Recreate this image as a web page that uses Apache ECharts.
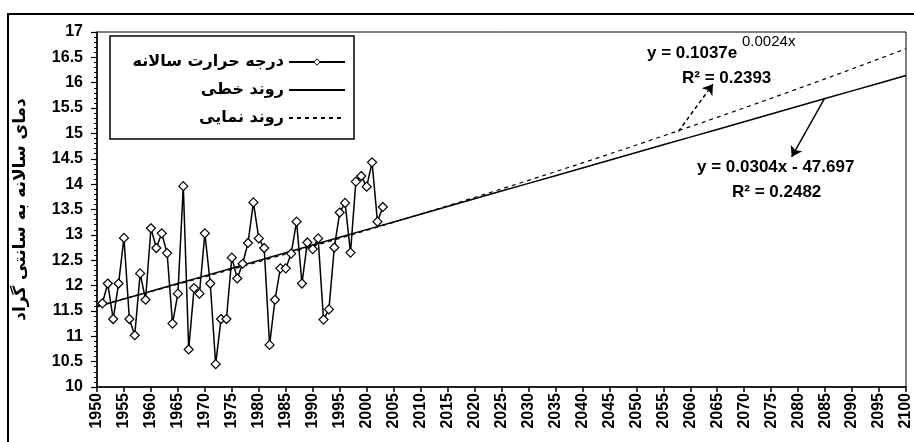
<!DOCTYPE html>
<html>
<head>
<meta charset="utf-8">
<script src="https://cdn.jsdelivr.net/npm/echarts@6/dist/echarts.min.js"></script>
<style>
  html, body { margin: 0; padding: 0; background: #fff; }
  #chart { width: 914px; height: 442px; }
</style>
</head>
<body>
<div id="chart"></div>
<script>
// Annual mean temperature (°C), 1951–2003
const years = [
  1951, 1952, 1953, 1954, 1955, 1956, 1957, 1958, 1959, 1960,
  1961, 1962, 1963, 1964, 1965, 1966, 1967, 1968, 1969, 1970,
  1971, 1972, 1973, 1974, 1975, 1976, 1977, 1978, 1979, 1980,
  1981, 1982, 1983, 1984, 1985, 1986, 1987, 1988, 1989, 1990,
  1991, 1992, 1993, 1994, 1995, 1996, 1997, 1998, 1999, 2000,
  2001, 2002, 2003
];
const temps = [
  11.65, 12.04, 11.34, 12.04, 12.94, 11.34, 11.02, 12.24, 11.72, 13.13,
  12.74, 13.03, 12.64, 11.25, 11.84, 13.96, 10.74, 11.95, 11.84, 13.03,
  12.04, 10.45, 11.34, 11.34, 12.55, 12.14, 12.43, 12.84, 13.64, 12.93,
  12.74, 10.83, 11.72, 12.34, 12.34, 12.63, 13.26, 12.04, 12.85, 12.72,
  12.93, 11.33, 11.53, 12.75, 13.44, 13.63, 12.65, 14.05, 14.16, 13.95,
  14.43, 13.26, 13.55
];

// Trend equations (year as x)
const linSlope = 0.0304;
const linIntercept = -47.697;
const expCoef = 0.1037;
const expRate = 0.002419;

// Years at which the trend curves are evaluated (axis ticks, 1950–2100)
const trendYears = [];
for (let y = 1950; y <= 2100; y += 5) trendYears.push(y);

// Labels
const seriesNames = ['درجه حرارت سالانه', 'روند خطی', 'روند نمایی'];
const yAxisTitle = 'دمای سالانه به سانتی گراد';
const linEqText = 'y = 0.0304x - 47.697';
const linR2Text = 'R² = 0.2482';
const expEqText = 'y = 0.1037e';
const expPowText = '0.0024x';
const expR2Text = 'R² = 0.2393';

const obsData = years.map((y, i) => [y, temps[i]]);
const linData = trendYears.map(y => [y, linSlope * y + linIntercept]);
const expData = trendYears.map(y => [y, expCoef * Math.exp(expRate * y)]);

const latin = '"Liberation Sans", Arial, sans-serif';
const persian = '"DejaVu Sans", sans-serif';

const chart = echarts.init(document.getElementById('chart'), null, { renderer: 'canvas' });

// One legend block per entry so the line samples line up on the right
function legendFor(item, top) {
  return {
    data: [item],
    orient: 'vertical',
    right: 568,
    top: top,
    align: 'right',
    padding: 0,
    itemWidth: 56,
    itemHeight: 8,
    selectedMode: false,
    textStyle: { fontFamily: persian, fontWeight: 'bold', fontSize: 16, color: '#000' }
  };
}

chart.setOption({
  animation: false,
  backgroundColor: '#fff',
  grid: {
    left: 97, top: 32, right: 8, bottom: 55,
    show: true, borderColor: '#000', borderWidth: 1, backgroundColor: 'transparent'
  },
  legend: [
    legendFor({ name: seriesNames[0], itemStyle: { color: '#fff', borderColor: '#000', borderWidth: 1 } }, 54),
    legendFor({ name: seriesNames[1], itemStyle: { opacity: 0 } }, 82),
    legendFor({ name: seriesNames[2], itemStyle: { opacity: 0 } }, 110)
  ],
  xAxis: {
    type: 'value',
    min: 1950, max: 2100, interval: 5,
    axisLine: { show: true, lineStyle: { color: '#000', width: 1.5 } },
    axisTick: { show: true, length: 5, lineStyle: { color: '#000', width: 1.5 } },
    splitLine: { show: false },
    axisLabel: {
      rotate: 90, margin: 6, color: '#000',
      fontFamily: latin, fontWeight: 'bold', fontSize: 16,
      formatter: v => String(v)
    }
  },
  yAxis: {
    type: 'value',
    min: 10, max: 17, interval: 0.5,
    name: yAxisTitle,
    nameLocation: 'middle',
    nameRotate: 90,
    nameGap: 68,
    nameTextStyle: { fontFamily: persian, fontWeight: 'bold', fontSize: 17, color: '#000' },
    axisLine: { show: true, lineStyle: { color: '#000', width: 1.5 } },
    axisTick: { show: true, length: 6, lineStyle: { color: '#000', width: 1.2 } },
    minorTick: { show: true, splitNumber: 5, length: 3, lineStyle: { color: '#000', width: 1 } },
    splitLine: { show: false },
    axisLabel: {
      margin: 14, color: '#000',
      fontFamily: latin, fontWeight: 'bold', fontSize: 16
    }
  },
  series: [
    {
      name: seriesNames[1],
      type: 'line',
      data: linData,
      symbol: 'none',
      color: '#000',
      lineStyle: { color: '#000', width: 1.5 },
      z: 3,
      markLine: {
        silent: true,
        symbol: ['none', 'arrow'],
        symbolSize: 10,
        label: { show: false },
        lineStyle: { color: '#000', width: 1.5, type: 'solid' },
        data: [[{ coord: [2084.9, 15.69] }, { coord: [2078.8, 14.54] }]]
      }
    },
    {
      name: seriesNames[2],
      type: 'line',
      data: expData,
      symbol: 'none',
      color: '#000',
      lineStyle: { color: '#000', width: 1.2, type: [4, 4] },
      z: 3,
      markLine: {
        silent: true,
        symbol: ['none', 'arrow'],
        symbolSize: 10,
        label: { show: false },
        lineStyle: { color: '#000', width: 1.5, type: [4, 3] },
        data: [[{ coord: [2057.8, 15.04] }, { coord: [2064.2, 15.97] }]]
      }
    },
    {
      name: seriesNames[0],
      type: 'line',
      data: obsData,
      symbol: 'diamond',
      symbolSize: 9,
      showAllSymbol: true,
      color: '#000',
      lineStyle: { color: '#000', width: 1.5 },
      itemStyle: { color: '#fff', borderColor: '#000', borderWidth: 1.2 },
      z: 5
    }
  ],
  graphic: [
    {
      type: 'rect', z: -1, silent: true,
      shape: { x: 8, y: 14, width: 1000, height: 1000 },
      style: { fill: 'none', stroke: '#000', lineWidth: 2 }
    },
    {
      type: 'rect', z: 1, silent: true,
      shape: { x: 110, y: 36, width: 244, height: 103 },
      style: { fill: '#fff', stroke: '#000', lineWidth: 1.5 }
    },
    {
      type: 'text', x: 647, y: 53, silent: true,
      style: { text: expEqText, font: 'bold 17px ' + latin, fill: '#000', verticalAlign: 'middle' }
    },
    {
      type: 'text', x: 742, y: 42, silent: true,
      style: { text: expPowText, font: '15px ' + latin, fill: '#000', verticalAlign: 'middle' }
    },
    {
      type: 'text', x: 682, y: 78, silent: true,
      style: { text: expR2Text, font: 'bold 17px ' + latin, fill: '#000', verticalAlign: 'middle' }
    },
    {
      type: 'text', x: 697, y: 167, silent: true,
      style: { text: linEqText, font: 'bold 17px ' + latin, fill: '#000', verticalAlign: 'middle' }
    },
    {
      type: 'text', x: 732, y: 192, silent: true,
      style: { text: linR2Text, font: 'bold 17px ' + latin, fill: '#000', verticalAlign: 'middle' }
    }
  ]
});
</script>
</body>
</html>
